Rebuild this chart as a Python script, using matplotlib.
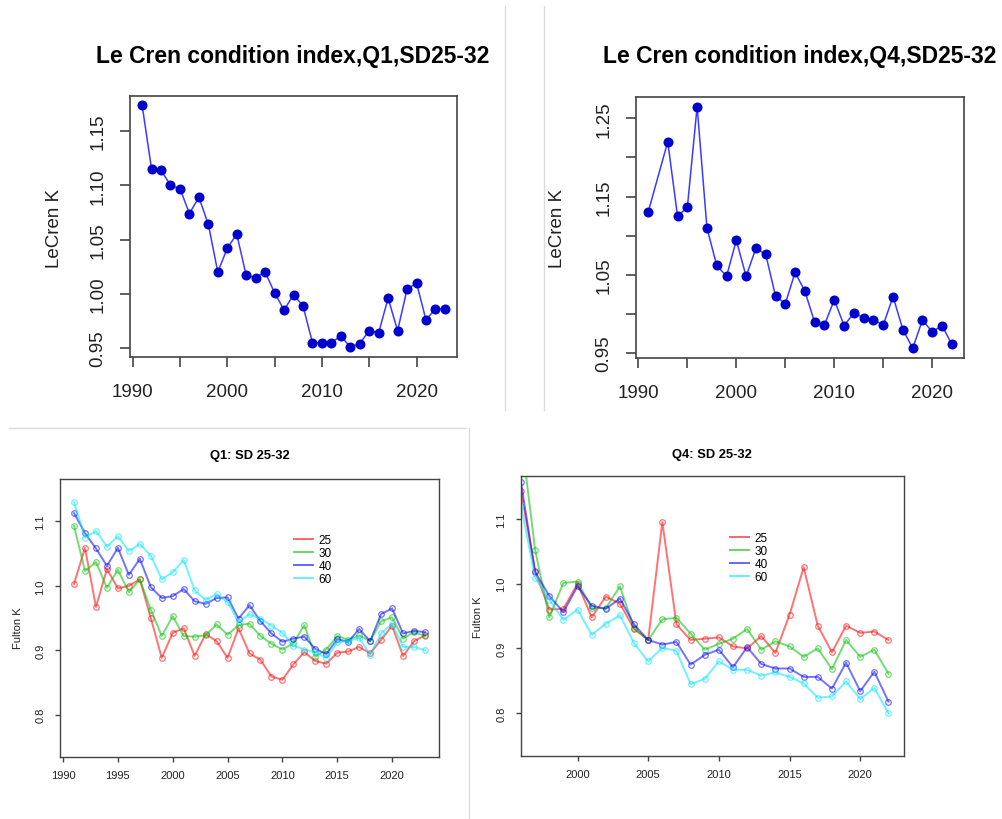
import matplotlib
matplotlib.use("Agg")
import matplotlib.pyplot as plt
from matplotlib.lines import Line2D

plt.rcParams['font.family'] = ['Liberation Sans', 'DejaVu Sans']

W, H = 1003, 820

# ---- data: Le Cren condition index ----
years_lecren_q1 = list(range(1991, 2024))
lecren_q1 = [1.174, 1.115, 1.114, 1.100, 1.097, 1.074, 1.089, 1.064, 1.020, 1.042,
             1.055, 1.017, 1.015, 1.020, 1.001, 0.985, 0.999, 0.989, 0.955, 0.955,
             0.955, 0.961, 0.951, 0.954, 0.966, 0.964, 0.996, 0.966, 1.004, 1.010,
             0.976, 0.986, 0.986]

years_lecren_q4 = [1991] + list(range(1993, 2023))
lecren_q4 = [1.130, 1.220, 1.125, 1.136, 1.265, 1.110, 1.062, 1.048, 1.094, 1.048,
             1.084, 1.076, 1.023, 1.013, 1.053, 1.029, 0.989, 0.986, 1.018, 0.985,
             1.001, 0.995, 0.992, 0.986, 1.022, 0.980, 0.956, 0.992, 0.977, 0.985,
             0.961]

# ---- data: Fulton K by length class ----
length_classes = ['25', '30', '40', '60']
class_colors = ['#ff0000', '#00c000', '#0000ff', '#00e5ff']

years_fulton_q1 = list(range(1991, 2024))
fulton_q1_25 = [1.003, 1.059, 0.967, 1.026, 0.996, 1.000, 1.010, 0.950, 0.888, 0.927,
                0.934, 0.891, 0.925, 0.914, 0.888, 0.934, 0.895, 0.885, 0.859, 0.854,
                0.878, 0.897, 0.883, 0.879, 0.896, 0.898, 0.905, 0.895, 0.916, 0.938,
                0.891, 0.914, 0.923]
fulton_q1_30 = [1.093, 1.023, 1.037, 0.997, 1.025, 0.990, 1.010, 0.963, 0.922, 0.953,
                0.922, 0.921, 0.923, 0.940, 0.924, 0.939, 0.941, 0.922, 0.910, 0.901,
                0.911, 0.939, 0.890, 0.901, 0.922, 0.916, 0.923, 0.914, 0.945, 0.951,
                0.918, 0.928, 0.922]
fulton_q1_40 = [1.113, 1.082, 1.058, 1.031, 1.059, 1.017, 1.042, 0.998, 0.981, 0.984,
                0.995, 0.976, 0.972, 0.981, 0.982, 0.949, 0.970, 0.945, 0.926, 0.913,
                0.918, 0.921, 0.902, 0.894, 0.917, 0.913, 0.933, 0.914, 0.956, 0.965,
                0.926, 0.930, 0.928]
fulton_q1_60 = [1.130, 1.075, 1.085, 1.061, 1.077, 1.054, 1.065, 1.047, 1.010, 1.021,
                1.040, 0.993, 0.978, 0.987, 0.975, 0.944, 0.956, 0.949, 0.938, 0.927,
                0.907, 0.901, 0.897, 0.888, 0.912, 0.914, 0.919, 0.893, 0.926, 0.941,
                0.905, 0.905, 0.900]

years_fulton_q4 = list(range(1996, 2023))
fulton_q4_25 = [1.143, 1.019, 0.960, 0.961, 1.000, 0.948, 0.980, 0.969, 0.930, 0.913,
                1.095, 0.937, 0.913, 0.915, 0.917, 0.903, 0.900, 0.919, 0.893, 0.952,
                1.025, 0.935, 0.894, 0.935, 0.924, 0.926, 0.913]
fulton_q4_30 = [1.230, 1.052, 0.948, 1.001, 1.003, 0.962, 0.962, 0.996, 0.931, 0.913,
                0.945, 0.947, 0.923, 0.898, 0.907, 0.915, 0.930, 0.898, 0.911, 0.903,
                0.887, 0.900, 0.868, 0.913, 0.887, 0.898, 0.861]
fulton_q4_40 = [1.156, 1.018, 0.981, 0.956, 0.996, 0.966, 0.961, 0.977, 0.937, 0.913,
                0.906, 0.910, 0.875, 0.890, 0.898, 0.871, 0.902, 0.876, 0.869, 0.869,
                0.856, 0.856, 0.838, 0.878, 0.834, 0.864, 0.818]
fulton_q4_60 = [1.121, 1.009, 0.975, 0.944, 0.960, 0.921, 0.938, 0.951, 0.908, 0.880,
                0.901, 0.896, 0.845, 0.853, 0.880, 0.867, 0.867, 0.858, 0.863, 0.856,
                0.846, 0.824, 0.826, 0.849, 0.822, 0.839, 0.800]


fig = plt.figure(figsize=(W / 100, H / 100), dpi=100)


def px_axes(l, t, r, b):
    return fig.add_axes([l / W, 1 - b / H, (r - l) / W, (b - t) / H])


def px_text(x, y, s, **kw):
    fig.text(x / W, 1 - y / H, s, ha='center', va='center', **kw)


def px_line(x0, y0, x1, y1):
    fig.add_artist(Line2D([x0 / W, x1 / W], [1 - y0 / H, 1 - y1 / H],
                          transform=fig.transFigure, color='#dcdcdc', lw=1))


def r_style(ax, tick_len, lw, fsize, pad_x, pad_y):
    for s in ax.spines.values():
        s.set_color('#444444')
        s.set_linewidth(lw)
    ax.tick_params(length=tick_len, width=lw, color='#444444',
                   labelsize=fsize, labelcolor='#222222')
    ax.tick_params(axis='x', pad=pad_x)
    ax.tick_params(axis='y', pad=pad_y, labelrotation=90)
    for lab in ax.get_yticklabels():
        lab.set_va('center')


# separators of the pasted screenshots
px_line(505, 7, 505, 411)
px_line(544, 7, 544, 411)
px_line(9, 429, 466, 429)
px_line(469, 429, 469, 820)

# ---- top left: Le Cren Q1 ----
ax1 = px_axes(130, 97, 457, 358)
ax1.plot(years_lecren_q1, lecren_q1, '-', color='#3b3bff', lw=1.1)
ax1.plot(years_lecren_q1, lecren_q1, 'o', color='#0000cd', ms=6.2, mec='#0000cd')
ax1.set_xlim(1989.72, 2024.28)
ax1.set_ylim(0.9417, 1.1824)
ax1.set_xticks(range(1990, 2021, 5))
ax1.set_xticklabels(['1990', '', '2000', '', '2010', '', '2020'])
ax1.set_yticks([0.95, 1.00, 1.05, 1.10, 1.15])
ax1.set_yticklabels(['0.95', '1.00', '1.05', '1.10', '1.15'])
r_style(ax1, 7, 1.2, 13.5, 12, 10)
px_text(293, 56, 'Le Cren condition index,Q1,SD25-32', fontsize=16.5, fontweight='bold')
px_text(55, 228, 'LeCren K', fontsize=13.5, rotation=90, color='#222222')

# ---- top right: Le Cren Q4 ----
ax2 = px_axes(636, 98, 964, 359)
ax2.plot(years_lecren_q4, lecren_q4, '-', color='#3b3bff', lw=1.1)
ax2.plot(years_lecren_q4, lecren_q4, 'o', color='#0000cd', ms=6.2, mec='#0000cd')
ax2.set_xlim(1989.76, 2023.24)
ax2.set_ylim(0.9436, 1.2772)
ax2.set_xticks(range(1990, 2021, 5))
ax2.set_xticklabels(['1990', '', '2000', '', '2010', '', '2020'])
ax2.set_yticks([0.95, 1.00, 1.05, 1.10, 1.15, 1.20, 1.25])
ax2.set_yticklabels(['0.95', '', '1.05', '', '1.15', '', '1.25'])
r_style(ax2, 7, 1.2, 13.5, 12, 10)
px_text(800, 56, 'Le Cren condition index,Q4,SD25-32', fontsize=16.5, fontweight='bold')
px_text(558, 228, 'LeCren K', fontsize=13.5, rotation=90, color='#222222')


def fulton_panel(ax, years, series):
    for vals, col in zip(series, class_colors):
        ax.plot(years, vals, '-', color=col, lw=1.4, alpha=0.55)
        ax.plot(years, vals, 'o', mfc='none', mec=col, ms=4, mew=0.9, alpha=0.55)
    ax.set_ylim(0.734, 1.166)
    ax.set_yticks([0.8, 0.9, 1.0, 1.1])
    ax.set_yticklabels(['0.8', '0.9', '1.0', '1.1'])
    r_style(ax, 3.5, 1.0, 8, 6, 7)
    handles = [Line2D([], [], color=c, lw=1.4, alpha=0.6) for c in class_colors]
    return handles


# ---- bottom left: Fulton Q1 ----
ax3 = px_axes(60, 480, 439, 758)
h = fulton_panel(ax3, years_fulton_q1,
                 [fulton_q1_25, fulton_q1_30, fulton_q1_40, fulton_q1_60])
ax3.set_xlim(1989.72, 2024.28)
ax3.set_xticks(range(1990, 2021, 5))
ax3.legend(h, length_classes, loc='upper left', frameon=False, fontsize=8.5,
           handlelength=1.6, handletextpad=0.5, labelspacing=0.08, borderpad=0,
           bbox_to_anchor=(288 / W, 1 - 529 / H), bbox_transform=fig.transFigure)
px_text(250, 456, 'Q1: SD 25-32', fontsize=9.3, fontweight='bold')
px_text(18, 628, 'Fulton K', fontsize=8, rotation=90, color='#222222')

# ---- bottom right: Fulton Q4 ----
ax4 = px_axes(521, 477, 904, 757)
h = fulton_panel(ax4, years_fulton_q4,
                 [fulton_q4_25, fulton_q4_30, fulton_q4_40, fulton_q4_60])
ax4.set_xlim(1996, 2023.1)
ax4.set_xticks(range(2000, 2021, 5))
ax4.legend(h, length_classes, loc='upper left', frameon=False, fontsize=8.5,
           handlelength=1.6, handletextpad=0.5, labelspacing=0.08, borderpad=0,
           bbox_to_anchor=(724 / W, 1 - 527 / H), bbox_transform=fig.transFigure)
px_text(712, 455, 'Q4: SD 25-32', fontsize=9.3, fontweight='bold')
px_text(478, 617, 'Fulton K', fontsize=8, rotation=90, color='#222222')

fig.savefig('out.png', dpi=100)
